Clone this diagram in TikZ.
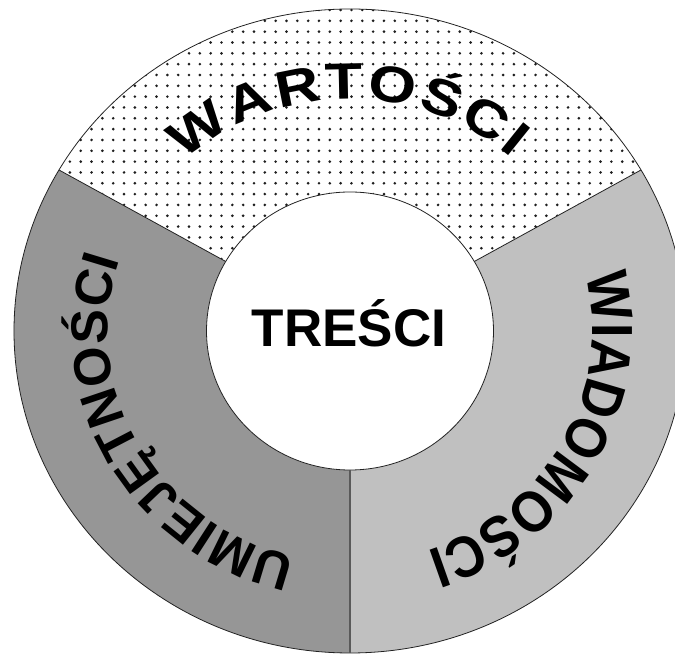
\documentclass[tikz,border=0pt]{standalone}
\usepackage{fontspec}
\setmainfont{Liberation Sans}
\newfontfamily\widefont{Liberation Sans}[FakeStretch=1.2]
\newfontfamily\narrowfont{Liberation Sans}[FakeStretch=0.9]
\usetikzlibrary{decorations.text,calc}
\definecolor{darksec}{HTML}{969696}
\definecolor{lightsec}{HTML}{C0C0C0}
\definecolor{dotc}{HTML}{1E1E1E}
\definecolor{linec}{HTML}{222222}
\newcommand\topfont{\widefont\fontsize{51}{60}\selectfont\bfseries}
\newcommand\leftfont{\fontsize{52}{60}\selectfont\bfseries}
\newcommand\rightfont{\narrowfont\fontsize{58}{66}\selectfont\bfseries}
\begin{document}
\begin{tikzpicture}[x=1pt,y=1pt,
  border/.style={draw=linec, line width=0.8pt},
  ringtext/.style 2 args={decorate, decoration={text along path, text align=fit to path,
     text format delimiters={|}{|}, text={|#1|#2}}}
]
\useasboundingbox (0,0) rectangle (675,658);
\clip (0,0) rectangle (675,658);
\coordinate (c) at (350,327);
\coordinate (o1) at ($(c)+(30:336 and 322)$);
\coordinate (o2) at ($(c)+(150:336 and 322)$);
\coordinate (o3) at ($(c)+(270:336 and 322)$);
\coordinate (i1) at ($(c)+(30:143.5 and 139)$);
\coordinate (i2) at ($(c)+(150:143.5 and 139)$);
\coordinate (i3) at ($(c)+(270:143.5 and 139)$);
% top sector with dots
\begin{scope}
\clip (o1) arc[start angle=30,end angle=150,x radius=336,y radius=322] -- (i2)
  arc[start angle=150,end angle=30,x radius=143.5,y radius=139] -- cycle;
\fill[white] (0,0) rectangle (675,658);
\foreach \j in {0,...,45}{
  \foreach \i in {0,...,62}{
    \fill[dotc] ({4.9+10.83*\i},{658-(10+10.83*\j)}) circle[radius=1.45];
  }
}
\end{scope}
% left sector
\fill[darksec] (o2) arc[start angle=150,end angle=270,x radius=336,y radius=322] -- (i3)
  arc[start angle=270,end angle=150,x radius=143.5,y radius=139] -- cycle;
% right sector
\fill[lightsec] (o3) arc[start angle=270,end angle=390,x radius=336,y radius=322] -- (i1)
  arc[start angle=30,end angle=-90,x radius=143.5,y radius=139] -- cycle;
% outlines
\draw[border] (c) ellipse[x radius=336,y radius=322];
\draw[border, fill=white] (c) ellipse[x radius=143.5,y radius=139];
\draw[border] (i1) -- (o1);
\draw[border] (i2) -- (o2);
\draw[draw=black!65, line width=1.4pt] (i3) -- (o3);
% texts
\node[anchor=base, inner sep=0pt, font=\fontsize{53}{60}\selectfont\bfseries] (center) at (349,311) {TREŚCI};
\path[ringtext={\topfont}{WARTOŚCI}] (c) ++(133:242 and 232)
  arc[start angle=133,end angle=48,x radius=242,y radius=232];
\path[ringtext={\leftfont}{UMIEJĘTNOŚCI}] (c) ++(257:242 and 232)
  arc[start angle=257,end angle=162,x radius=242,y radius=232];
\path[ringtext={\rightfont}{WIADOMOŚCI}] (c) ++(14:242 and 232)
  arc[start angle=14,end angle=-70.5,x radius=242,y radius=232];
\end{tikzpicture}
\end{document}
